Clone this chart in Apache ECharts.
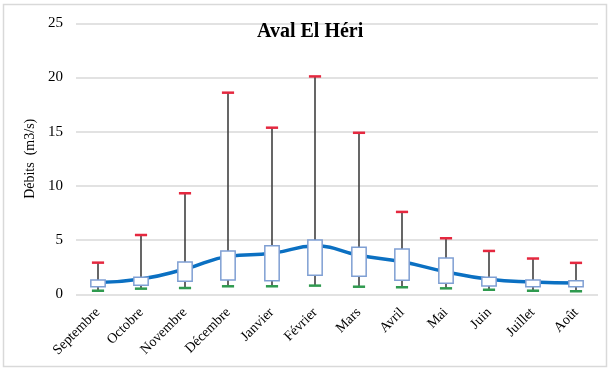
<!DOCTYPE html>
<html><head><meta charset="utf-8">
<script src="https://cdn.jsdelivr.net/npm/echarts@6/dist/echarts.min.js"></script>
<style>html,body{margin:0;padding:0;background:#fff}#c{width:611px;height:371px}</style>
</head><body><div id="c"></div>
<script>
var months = ['Septembre','Octobre','Novembre','Décembre','Janvier','Février','Mars','Avril','Mai','Juin','Juillet','Août'];
var minVals = [0.33,0.52,0.58,0.74,0.74,0.80,0.70,0.65,0.55,0.42,0.33,0.28];
var q1Vals  = [0.70,0.83,1.20,1.32,1.25,1.75,1.66,1.29,1.01,0.77,0.70,0.70];
var q3Vals  = [1.32,1.57,2.98,4.00,4.48,5.00,4.34,4.18,3.35,1.57,1.32,1.25];
var maxVals = [2.92,5.47,9.32,18.6,15.37,20.1,14.9,7.6,5.17,4.0,3.3,2.9];
var meanVals= [1.10,1.41,2.33,3.50,3.78,4.45,3.60,3.00,2.08,1.38,1.13,1.04];
var yTicks = [0,5,10,15,20,25];

var boxData = months.map(function(m,i){return [i,minVals[i],q1Vals[i],q3Vals[i],maxVals[i]];});
var serif = '"Liberation Serif","Times New Roman",serif';

var chart = echarts.init(document.getElementById('c'));
chart.setOption({
  animation:false,
  backgroundColor:'#fff',
  title:{text:'Aval El Héri',left:252,top:17,textStyle:{fontFamily:serif,fontWeight:'bold',fontSize:20,color:'#000'}},
  grid:{left:76,right:13,top:23.3,bottom:76.7},
  xAxis:{type:'category',data:months,boundaryGap:true,
    axisLine:{show:false},axisTick:{show:false},
    axisLabel:{rotate:45,interval:0,margin:16,fontFamily:serif,fontSize:14,color:'#000'}},
  yAxis:{type:'value',min:yTicks[0],max:yTicks[yTicks.length-1],interval:5,
    name:'Débits  (m3/s)',nameLocation:'middle',nameGap:32,
    nameTextStyle:{fontFamily:serif,fontSize:14,color:'#000'},
    axisLine:{show:false},axisTick:{show:false},
    axisLabel:{margin:13,fontFamily:serif,fontSize:15,color:'#000'},
    splitLine:{lineStyle:{color:'#d9d9d9',width:1.5}}},
  graphic:[{type:'rect',shape:{x:3.5,y:4.5,width:603,height:362},style:{fill:null,stroke:'#d9d9d9',lineWidth:1.5},silent:true,z:-10}],
  series:[
    {type:'line',data:meanVals,smooth:true,showSymbol:false,z:1,
     lineStyle:{color:'#0b70c2',width:3.5}},
    {type:'custom',z:5,data:boxData,
     encode:{x:0,y:[1,2,3,4]},
     renderItem:function(params,api){
       var i=api.value(0);
       var pMin=api.coord([i,api.value(1)]);
       var pQ1=api.coord([i,api.value(2)]);
       var pQ3=api.coord([i,api.value(3)]);
       var pMax=api.coord([i,api.value(4)]);
       var bw=api.size([1,0])[0]*0.33;
       var cw=api.size([1,0])[0]*0.28;
       var x=Math.round(pMin[0]);
       return {type:'group',children:[
         {type:'line',shape:{x1:x,y1:pQ3[1],x2:x,y2:pMax[1]},style:{stroke:'#404040',lineWidth:1.6}},
         {type:'line',shape:{x1:x,y1:pMin[1],x2:x,y2:pQ1[1]},style:{stroke:'#404040',lineWidth:1.6}},
         {type:'rect',shape:{x:x-bw/2,y:pQ3[1],width:bw,height:pQ1[1]-pQ3[1]},style:{fill:'#fff',stroke:'#7f9fd3',lineWidth:1.5}},
         {type:'line',shape:{x1:x-cw/2,y1:pMax[1],x2:x+cw/2,y2:pMax[1]},style:{stroke:'#e5283f',lineWidth:2.5}},
         {type:'line',shape:{x1:x-cw/2,y1:pMin[1],x2:x+cw/2,y2:pMin[1]},style:{stroke:'#2f9a4f',lineWidth:2.5}}
       ]};
     }}
  ]
});
</script></body></html>
